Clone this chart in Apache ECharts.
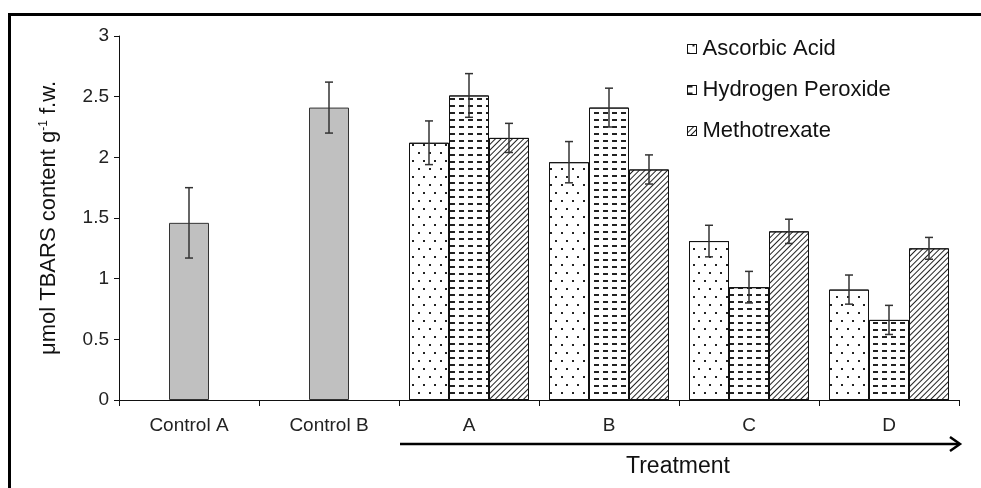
<!DOCTYPE html>
<html>
<head>
<meta charset="utf-8">
<script src="https://cdn.jsdelivr.net/npm/echarts@6/dist/echarts.min.js"></script>
<style>html,body{margin:0;padding:0;background:#fff}#c{width:981px;height:488px}</style>
</head>
<body>
<div id="c"></div>
<script>
var categories = ['Control A', 'Control B', 'A', 'B', 'C', 'D'];
var controlMean = [1.46, 2.41, null, null, null, null];
var controlErr  = [0.29, 0.21, null, null, null, null];
var ascorbic    = [null, null, 2.12, 1.96, 1.31, 0.91];
var ascorbicErr = [null, null, 0.18, 0.17, 0.13, 0.12];
var hydrogen    = [null, null, 2.51, 2.41, 0.93, 0.66];
var hydrogenErr = [null, null, 0.18, 0.16, 0.13, 0.12];
var metho       = [null, null, 2.16, 1.90, 1.39, 1.25];
var methoErr    = [null, null, 0.12, 0.12, 0.10, 0.09];
var seriesNames = ['Ascorbic Acid', 'Hydrogen Peroxide', 'Methotrexate'];
var yTicks = [0, 0.5, 1, 1.5, 2, 2.5, 3];

var FONT = '"Liberation Sans", Arial, sans-serif';
var BAR_W = 40;

function errData(mean, err) {
  var out = [];
  for (var i = 0; i < mean.length; i++) {
    if (mean[i] != null) out.push([i, mean[i] - err[i], mean[i] + err[i]]);
  }
  return out;
}
function errSeries(mean, err, slot, axisIdx) {
  return {
    type: 'custom',
    xAxisIndex: axisIdx,
    z: 10,
    silent: true,
    data: errData(mean, err),
    encode: { x: 0, y: [1, 2] },
    renderItem: function (params, api) {
      var lo = api.coord([api.value(0), api.value(1)]);
      var hi = api.coord([api.value(0), api.value(2)]);
      var x = lo[0] + slot * BAR_W;
      var cap = 4;
      var st = { stroke: '#333', lineWidth: 1.5 };
      return {
        type: 'group',
        children: [
          { type: 'line', shape: { x1: x, y1: lo[1], x2: x, y2: hi[1] }, style: st },
          { type: 'line', shape: { x1: x - cap, y1: lo[1], x2: x + cap, y2: lo[1] }, style: st },
          { type: 'line', shape: { x1: x - cap, y1: hi[1], x2: x + cap, y2: hi[1] }, style: st }
        ]
      };
    }
  };
}

var decals = [
  { symbol: 'rect', symbolSize: 1, color: '#222', dashArrayX: [[1.2, 8.8], [0, 5, 1.2, 3.8]], dashArrayY: [1.2, 5.8] },
  { symbol: 'rect', symbolSize: 1, color: '#222', dashArrayX: [5, 4], dashArrayY: [1.2, 5] },
  { symbol: 'rect', symbolSize: 1, color: '#222', dashArrayX: [1, 0], dashArrayY: [1, 3], rotation: -Math.PI / 4 }
];
var groupData = [ascorbic, hydrogen, metho];

var series = [];
for (var k = 0; k < 3; k++) {
  series.push({
    name: seriesNames[k],
    type: 'bar',
    xAxisIndex: 0,
    barWidth: BAR_W,
    barGap: '0%',
    data: groupData[k],
    itemStyle: { color: '#fff', borderColor: '#111', borderWidth: 1, decal: decals[k] }
  });
}
series.push({
  name: 'Control',
  type: 'bar',
  xAxisIndex: 1,
  barWidth: BAR_W,
  data: controlMean,
  itemStyle: { color: '#c0c0c0', borderColor: '#333', borderWidth: 1 }
});
series.push(errSeries(ascorbic, ascorbicErr, -1, 0));
series.push(errSeries(hydrogen, hydrogenErr, 0, 0));
series.push(errSeries(metho, methoErr, 1, 0));
series.push(errSeries(controlMean, controlErr, 0, 1));

var chart = echarts.init(document.getElementById('c'), null, { renderer: 'canvas' });
chart.setOption({
  animation: false,
  backgroundColor: '#fff',
  textStyle: { fontFamily: FONT },
  grid: { left: 119, right: 22, top: 36, bottom: 88, containLabel: false },
  legend: {
    data: seriesNames,
    orient: 'vertical',
    left: 682,
    top: 33,
    itemWidth: 9,
    itemHeight: 9,
    itemGap: 19,
    icon: 'rect',
    textStyle: { fontFamily: FONT, fontSize: 22, color: '#111', padding: [0, 0, 0, 1] },
    itemStyle: { borderColor: '#111', borderWidth: 1 }
  },
  xAxis: [{
    type: 'category',
    data: categories,
    axisLine: { lineStyle: { color: '#111', width: 1 } },
    axisTick: { show: true, interval: 0, length: 6, lineStyle: { color: '#111' } },
    axisLabel: { interval: 0, fontFamily: FONT, fontSize: 19, color: '#222', margin: 16 }
  }, {
    type: 'category',
    data: categories,
    show: false
  }],
  yAxis: {
    type: 'value',
    min: yTicks[0],
    max: yTicks[yTicks.length - 1],
    interval: 0.5,
    splitLine: { show: false },
    axisLine: { show: true, lineStyle: { color: '#111', width: 1 } },
    axisTick: { show: true, length: 5, lineStyle: { color: '#111' } },
    axisLabel: { fontFamily: FONT, fontSize: 19, color: '#222', margin: 10 },
    name: 'μmol TBARS content g{sup|-1} f.w.',
    nameLocation: 'middle',
    nameGap: 59,
    nameRotate: 90,
    nameTextStyle: {
      fontFamily: FONT, fontSize: 22, color: '#111',
      rich: { sup: { fontFamily: FONT, fontSize: 12, color: '#111', padding: [0, 0, 10, 0] } }
    }
  },
  series: series,
  graphic: [
    { type: 'rect', shape: { x: 8, y: 13, width: 3, height: 480 }, style: { fill: '#000' }, silent: true },
    { type: 'rect', shape: { x: 8, y: 13, width: 980, height: 3 }, style: { fill: '#000' }, silent: true },
    { type: 'line', shape: { x1: 400, y1: 444, x2: 959, y2: 444 }, style: { stroke: '#000', lineWidth: 2.5 }, silent: true },
    { type: 'polyline', shape: { points: [[950, 437], [960, 444], [950, 451]] }, style: { stroke: '#000', lineWidth: 2.5, fill: null }, silent: true },
    { type: 'text', x: 678, y: 467, style: { text: 'Treatment', fontFamily: FONT, fontSize: 23, fill: '#111', align: 'center', verticalAlign: 'middle' }, silent: true }
  ]
});
</script>
</body>
</html>
